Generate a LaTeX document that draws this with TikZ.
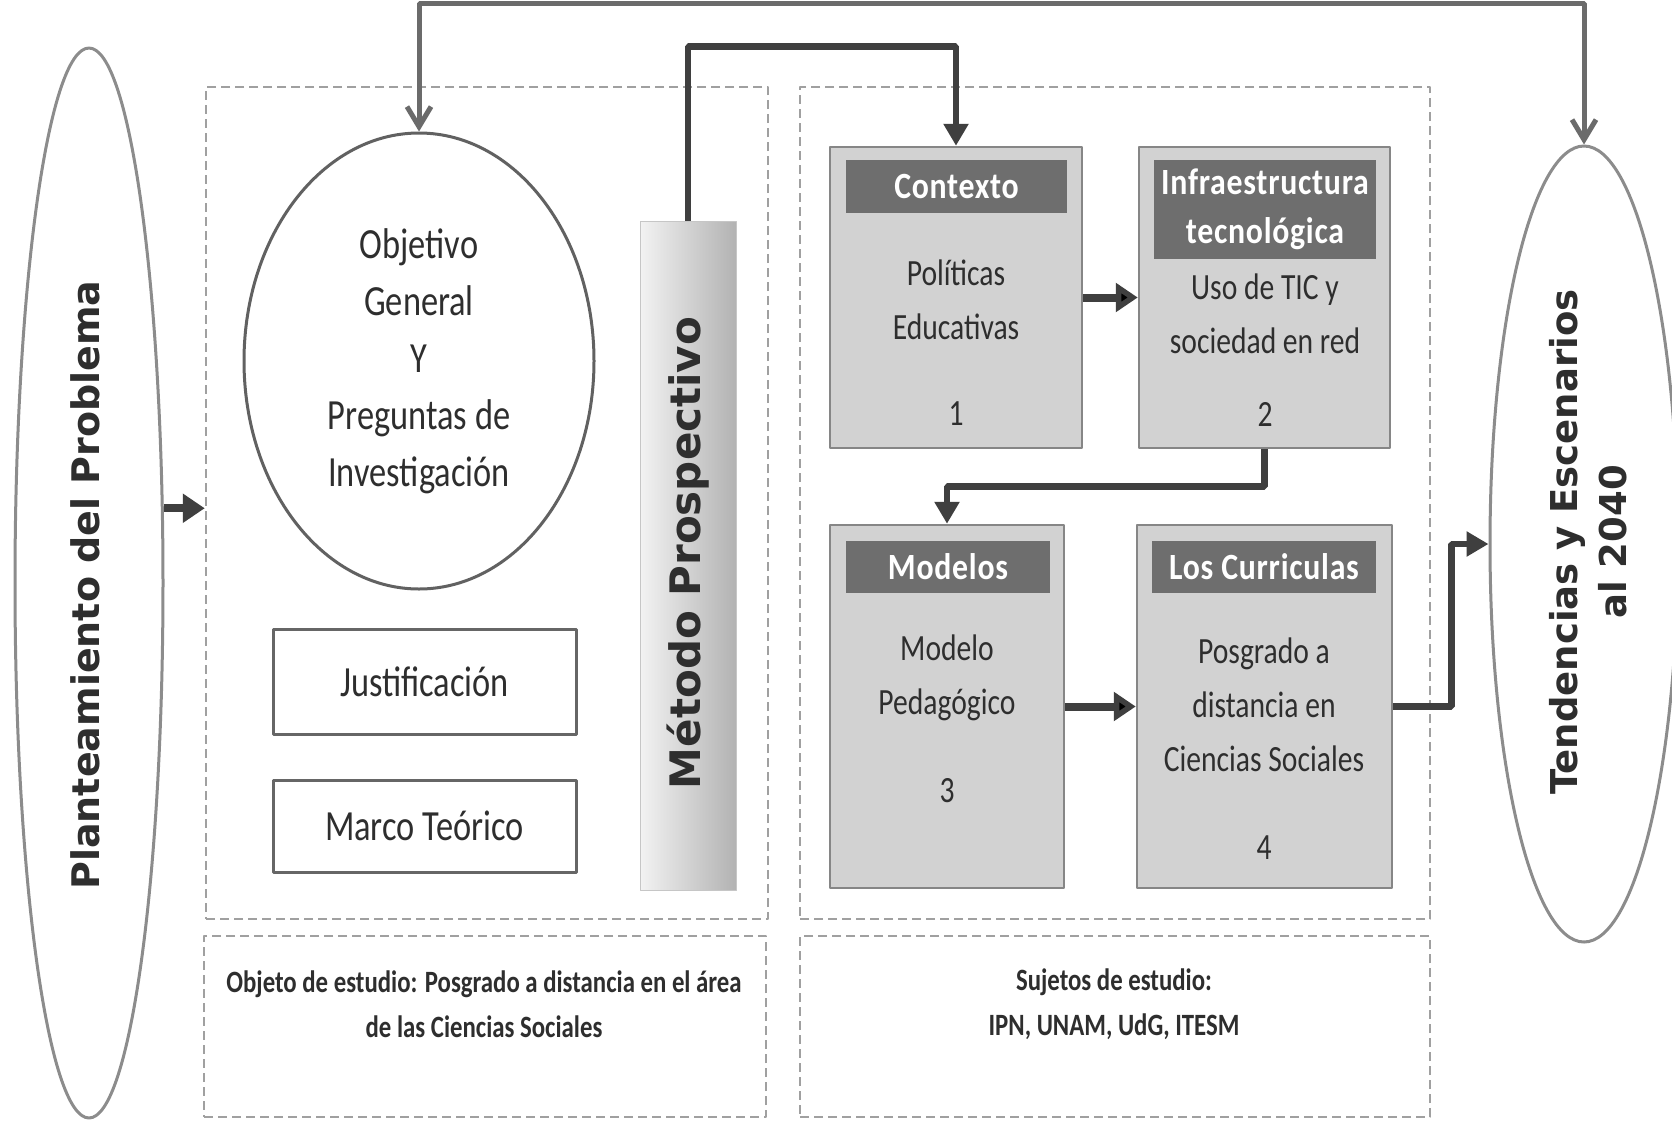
\documentclass[tikz,border=0pt]{standalone}
\usepackage{fontspec}
\usetikzlibrary{shapes.geometric,arrows.meta}
\newfontfamily\bodyfont{Carlito}[FakeStretch=0.80]
\newfontfamily\headfont{Carlito}[FakeStretch=0.86,LetterSpace=2.0]
\newfontfamily\widefont{DejaVu Sans}
\definecolor{darkline}{HTML}{3F3F3F}
\definecolor{outerline}{HTML}{6B6B6B}
\definecolor{boxfill}{HTML}{D2D2D2}
\definecolor{boxline}{HTML}{868686}
\definecolor{headfill}{HTML}{6E6E6E}
\definecolor{dashline}{HTML}{A0A0A0}
\definecolor{textgray}{HTML}{2E2E2E}
\begin{document}
\begin{tikzpicture}[>=latex,line join=bevel,x=1pt,y=-1pt,
  zonebox/.style={rectangle,draw=dashline,line width=2.5pt,dash pattern=on 9pt off 5pt,inner sep=0pt},
  stagebox/.style={rectangle,draw=boxline,fill=boxfill,line width=2.5pt,inner sep=0pt},
  hdbox/.style={rectangle,fill=headfill,text=white,inner sep=0pt,align=center,font=\headfont\bfseries\fontsize{37}{49}\selectfont},
  txtbody/.style={align=center,text=textgray,font=\bodyfont\fontsize{37}{54}\selectfont},
  plainbox/.style={rectangle,draw=black!60,line width=3pt,fill=white,inner sep=0pt,text=textgray,font=\bodyfont\fontsize{43}{55}\selectfont},
  notetext/.style={align=center,text=textgray,font=\bodyfont\bfseries\fontsize{31}{45}\selectfont},
  sidetitle/.style={rotate=90,align=center,text=textgray,font=\widefont\bfseries\fontsize{38}{49}\selectfont},
  bigarrow/.style={draw=darkline,line width=8pt,-{Triangle[length=22pt,width=28pt]}},
  midarrow/.style={draw=darkline,line width=6.5pt,-{Triangle[length=22pt,width=24pt]}},
  outerarrow/.style={draw=outerline,line width=5pt,{Straight Barb[length=20pt,width=24pt]}-{Straight Barb[length=20pt,width=24pt]}},
]
\path[fill=white,use as bounding box] (0,0) rectangle (1672,1122);

 \node (node_0) at (89,583) [ellipse,draw=black!45,line width=3pt,minimum width=148pt,minimum height=1070pt,inner sep=0pt] {};
 \node (node_1) at (85,585) [sidetitle] {Planteamiento del Problema};

 \node (node_2) at (487,503) [zonebox,minimum width=562pt,minimum height=832pt] {};
 \node (node_3) at (485,1026.5) [zonebox,minimum width=562pt,minimum height=181pt] {};
 \node (node_4) at (484,1004) [notetext] {Objeto de estudio: Posgrado a distancia en el área\\de las Ciencias Sociales};
 \node (node_5) at (419,361) [ellipse,draw=black!62,line width=3pt,minimum width=350pt,minimum height=456pt,inner sep=0pt,align=center,text=textgray,font=\bodyfont\fontsize{43}{57}\selectfont] {Objetivo\\General\\Y\\Preguntas de\\Investigación};
 \node (node_6) at (424.5,681.5) [plainbox,minimum width=303pt,minimum height=105pt] {Justificación};
 \node (node_7) at (424.5,826) [plainbox,minimum width=303pt,minimum height=92pt] {Marco Teórico};
 \node (node_8) at (688,555.5) [rectangle,left color=gray!10,right color=gray!60,draw=gray!45,line width=1pt,minimum width=96pt,minimum height=669pt,inner sep=0pt] {};
 \node (node_9) at (688,553) [sidetitle,font=\widefont\bfseries\fontsize{42}{50}\selectfont] {Método Prospectivo};

 \node (node_10) at (1115,503) [zonebox,minimum width=630pt,minimum height=832pt] {};
 \node (node_11) at (1115,1026.5) [zonebox,minimum width=630pt,minimum height=181pt] {};
 \node (node_12) at (1114,1004) [notetext] {Sujetos de estudio:\\IPN, UNAM, UdG, ITESM};

 \node (node_13) at (956,297.5) [stagebox,minimum width=252pt,minimum height=301pt] {};
 \node (node_14) at (956.5,186.5) [hdbox,minimum width=221pt,minimum height=53pt] {Contexto};
 \node (node_15) at (956,300) [txtbody] {Políticas\\Educativas};
 \node (node_16) at (956,414) [txtbody] {1};

 \node (node_17) at (1264.5,297.5) [stagebox,minimum width=251pt,minimum height=301pt] {};
 \node (node_18) at (1265,209.5) [hdbox,minimum width=222pt,minimum height=99pt] {Infraestructura\\tecnológica};
 \node (node_19) at (1265,313.5) [txtbody] {Uso de TIC y\\sociedad en red};
 \node (node_20) at (1265,414) [txtbody] {2};

 \node (node_21) at (947,706.5) [stagebox,minimum width=234pt,minimum height=363pt] {};
 \node (node_22) at (948,567) [hdbox,minimum width=204pt,minimum height=52pt] {Modelos};
 \node (node_23) at (947,677.5) [txtbody] {Modelo\\Pedagógico};
 \node (node_24) at (947,791) [txtbody] {3};

 \node (node_25) at (1264.5,706.5) [stagebox,minimum width=255pt,minimum height=363pt] {};
 \node (node_26) at (1264,567) [hdbox,minimum width=224pt,minimum height=52pt] {Los Curriculas};
 \node (node_27) at (1264,705) [txtbody] {Posgrado a\\distancia en\\Ciencias Sociales};
 \node (node_28) at (1264,848) [txtbody] {4};

 \node (node_29) at (1584,544) [ellipse,draw=black!45,line width=3pt,minimum width=188pt,minimum height=796pt,inner sep=0pt] {};
 \node (node_30) at (1588,542) [sidetitle,font=\widefont\bfseries\fontsize{37}{49}\selectfont] {Tendencias y Escenarios\\al 2040};

  \draw [bigarrow] (node_0.45) -- (node_0.45 -| node_2.west);
  \draw [midarrow] (node_8.north) -- ++(0,-174) -| (node_13.north);
  \draw [bigarrow] (node_13) edge (node_17);
  \draw [midarrow] (node_17.south) -- ++(0,37) -| (node_21.north);
  \draw [bigarrow] (node_21) edge (node_25);
  \draw [midarrow] (node_25.east) -- ++(58,0) |- (node_29.west);
  \draw [outerarrow] (node_5.north) -- ++(0,-128) -| (node_29.north);

\end{tikzpicture}
\end{document}
